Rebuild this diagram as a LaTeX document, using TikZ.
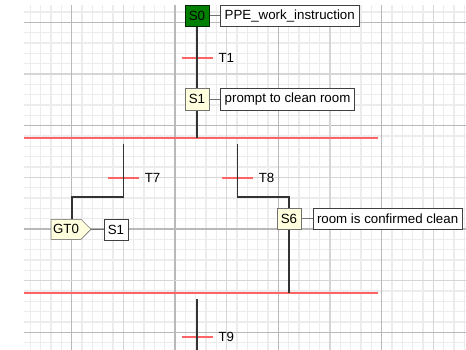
\documentclass[tikz,border=0pt]{standalone}
\usepackage{fontspec}
\setmainfont{Liberation Sans}
\usetikzlibrary{positioning,shapes.symbols}
\definecolor{stepyellow}{RGB}{255,255,221}
\definecolor{initgreen}{RGB}{0,128,0}
\definecolor{transred}{RGB}{255,100,100}
\definecolor{wiregray}{RGB}{51,51,51}
\definecolor{minorgray}{RGB}{236,236,236}
\definecolor{midgray}{RGB}{214,214,214}
\definecolor{majorgray}{RGB}{185,185,185}
\begin{document}
\begin{tikzpicture}[x=1pt,y=-1pt,
    font=\fontsize{13.3}{15}\selectfont,
    stepbox/.style={draw=black!55, fill=stepyellow, minimum width=23.4pt, minimum height=21.5pt, inner sep=1pt},
    initbox/.style={stepbox, draw=black!70!initgreen, fill=initgreen},
    actbox/.style={draw=black!75, fill=white, minimum height=21.5pt, inner xsep=4.3pt, inner ysep=1pt},
    jumpbox/.style={signal, signal to=east, signal pointer angle=90, draw=black!55, fill=stepyellow, minimum height=20pt, inner xsep=2pt, inner ysep=1pt},
    wire/.style={draw=wiregray, line width=1.6pt},
    link/.style={draw=black!55, line width=0.9pt},
    trans/.style={draw=transred, line width=2pt},
    translabel/.style={inner sep=0pt, right=5pt}]
    \useasboundingbox (0,0) rectangle (466,350);
    \fill[white] (0,0) rectangle (466,350);
    % grid
    \begin{scope}
        \clip (24,5) rectangle (466,350);
        \foreach \i in {0,...,42}
            \draw[minorgray, line width=1.4pt] ({30.4+\i*10.333},5) -- ({30.4+\i*10.333},350);
        \foreach \j in {0,...,33}
            \draw[minorgray, line width=1.4pt] (24,{12+\j*10.333}) -- (466,{12+\j*10.333});
        \foreach \k in {0,...,3} {
            \draw[midgray, line width=1.2pt] ({123.3+\k*103.33},5) -- ({123.3+\k*103.33},350);
            \draw[midgray, line width=1.2pt] (24,{74+\k*103.33}) -- (466,{74+\k*103.33});
            \draw[majorgray, line width=1.2pt] ({71.7+\k*103.33},5) -- ({71.7+\k*103.33},350);
            \draw[majorgray, line width=1.2pt] (24,{22.3+\k*103.33}) -- (466,{22.3+\k*103.33});
        }
    \end{scope}

    \coordinate (t1) at (197,58);
    \coordinate (t7) at (123.3,178);
    \coordinate (t8) at (237.3,178);
    \coordinate (t9) at (197,337);
    \coordinate (d1w) at (24,138);
    \coordinate (d1e) at (377.5,138);
    \coordinate (d2w) at (24,293);
    \coordinate (d2e) at (377.5,293);
    \coordinate (b7) at (123.3,144);
    \coordinate (c7) at (71.7,196.7);
    \coordinate (b8) at (237.3,144);
    \coordinate (c8) at (289,196.7);
    \coordinate (b9) at (197,299.3);
    \coordinate (e9) at (197,350);

    \node[initbox] (s0) at (197,15.7) {S0};
    \node[actbox, right=11.3pt of s0] (s0act) {PPE\_work\_instruction};
    \node[stepbox] (s1) at (197,99.2) {S1};
    \node[actbox, right=11.3pt of s1] (s1act) {prompt to clean room};
    \node[jumpbox] (gt0) at (66,229.3) {GT0};
    \node[actbox, minimum width=23.4pt, inner xsep=1pt] (gs1) at (116,229.5) {S1};
    \node[stepbox] (s6) at (289,218.7) {S6};
    \node[actbox, right=11.6pt of s6] (s6act) {room is confirmed clean};

    % transitions
    \draw[trans] (d1w) -- (d1e);
    \draw[trans] (d2w) -- (d2e);
    \draw[trans] ([xshift=-15.5pt]t1) -- ([xshift=15.5pt]t1) node[translabel] (t1lab) {T1};
    \draw[trans] ([xshift=-15.5pt]t7) -- ([xshift=15.5pt]t7) node[translabel] (t7lab) {T7};
    \draw[trans] ([xshift=-15.5pt]t8) -- ([xshift=15.5pt]t8) node[translabel] (t8lab) {T8};
    \draw[trans] ([xshift=-15.5pt]t9) -- ([xshift=15.5pt]t9) node[translabel] (t9lab) {T9};

    % flow
    \draw[wire] (s0.south) -- (s1.north);
    \draw[wire] (s1.south) -- (s1.south |- d1w);
    \draw[wire] (b7) -- (b7 |- c7) -- (c7) -- (c7 |- gt0.north);
    \draw[wire] (b8) -- (b8 |- c8) -- (c8) -- (s6.north);
    \draw[wire] (s6.south) -- (s6.south |- d2w);
    \draw[wire] (b9) -- (e9);

    \draw[link] (s0) -- (s0act);
    \draw[link] (s1) -- (s1act);
    \draw[link] (gt0.east) -- (gs1);
    \draw[link] (s6) -- (s6act);

    \node[initbox] at (s0) {S0};
    \node[stepbox] at (s1) {S1};
    \node[stepbox] at (s6) {S6};
    \node[jumpbox] at (gt0) {GT0};
\end{tikzpicture}
\end{document}
